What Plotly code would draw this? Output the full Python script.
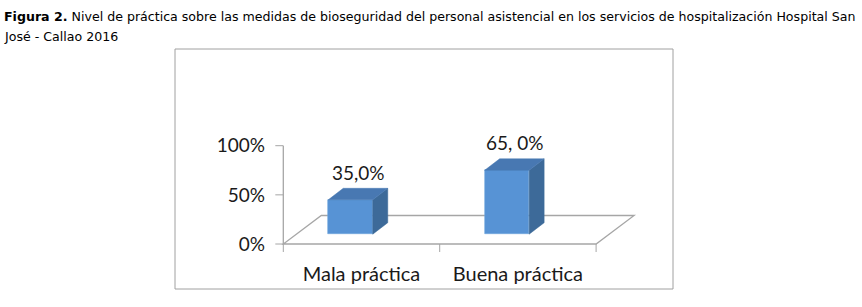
import plotly.graph_objects as go

# ---------------- data ----------------
categories = ["Mala práctica", "Buena práctica"]
values = [35.0, 65.0]
value_labels = ["35,0%", "65, 0%"]
y_tick_values = [0, 50, 100]
y_tick_labels = ["0%", "50%", "100%"]
title_bold = "Figura 2."
title_rest = (" Nivel de práctica sobre las medidas de bioseguridad del personal asistencial "
              "en los servicios de hospitalización Hospital San")
title_line2 = "José - Callao 2016"

# ---------------- layout geometry (pixels) ----------------
W, H = 862, 307
PL, PR, PT, PB = 266, 668, 126, 258      # plot area
X0_PX = 283.3                             # pixel of left category boundary
UX = 156.4                                # px per category
Y0_PX = 244.0                             # pixel of 0 %
UY = 0.983                                # px per percent

x_range = [-0.5 + (PL - X0_PX) / UX, -0.5 + (PR - X0_PX) / UX]
y_range = [(Y0_PX - PB) / UY, (Y0_PX - PT) / UY]


def paper(px, py):
    return (px - PL) / (PR - PL), (PB - py) / (PB - PT)


# 3-D look (in axis units)
BAR_W = 44.5 / UX
BAR_OFF = -11.0 / UX
BAR_DX = 15.0 / UX
BAR_DY = 11.5 / UY
BAR_LIFT = 9.8 / UY
FLOOR_DX = 38.0 / UX
FLOOR_DY = 28.5 / UY
TICK_X = 8.0 / UX
TICK_Y = 8.0 / UY

FRONT = "#5793D5"
SIDE = "#3D6A99"
TOP = "#4878B2"
GRID = "#A6A6A6"
LABEL_FONT = "Lato"

fig = go.Figure()

n = len(categories)
xs = [i + BAR_OFF for i in range(n)]

# front faces
fig.add_trace(go.Bar(
    x=xs, y=values, base=BAR_LIFT, width=BAR_W,
    marker=dict(color=FRONT, line=dict(color="#6FA6DE", width=0.6)),
    hoverinfo="skip", showlegend=False,
))

# side and top faces
side_x, side_y, top_x, top_y = [], [], [], []
for i, v in enumerate(values):
    xl = xs[i] - BAR_W / 2
    xr = xs[i] + BAR_W / 2
    yb = BAR_LIFT
    yt = BAR_LIFT + v
    side_x += [xr, xr + BAR_DX, xr + BAR_DX, xr, xr, None]
    side_y += [yb, yb + BAR_DY, yt + BAR_DY, yt, yb, None]
    top_x += [xl, xr, xr + BAR_DX, xl + BAR_DX, xl, None]
    top_y += [yt, yt, yt + BAR_DY, yt + BAR_DY, yt, None]

fig.add_trace(go.Scatter(x=side_x, y=side_y, fill="toself", fillcolor=SIDE, mode="lines",
                         line=dict(color=SIDE, width=0.5), hoverinfo="skip", showlegend=False))
fig.add_trace(go.Scatter(x=top_x, y=top_y, fill="toself", fillcolor=TOP, mode="lines",
                         line=dict(color=TOP, width=0.5), hoverinfo="skip", showlegend=False))

# value labels
for i, v in enumerate(values):
    fig.add_annotation(x=xs[i] + BAR_DX / 2, y=BAR_LIFT + v + BAR_DY, text=value_labels[i],
                       showarrow=False, yanchor="middle", yshift=16,
                       font=dict(family=LABEL_FONT, size=19, color="#1a1a1a"))

# floor, axis line, tick marks (below traces)
shapes = []
x_left, x_right = -0.5, n - 0.5
floor_path = (f"M {x_left},0 L {x_right},0 L {x_right + FLOOR_DX},{FLOOR_DY} "
              f"L {x_left + FLOOR_DX},{FLOOR_DY} Z")
shapes.append(dict(type="path", path=floor_path, xref="x", yref="y", layer="below",
                   line=dict(color=GRID, width=1.3)))
shapes.append(dict(type="line", xref="x", yref="y", x0=x_left, x1=x_left,
                   y0=0, y1=max(y_tick_values), layer="below", line=dict(color=GRID, width=1.3)))
for tv in y_tick_values:
    shapes.append(dict(type="line", xref="x", yref="y", x0=x_left - TICK_X, x1=x_left,
                       y0=tv, y1=tv, layer="below", line=dict(color=GRID, width=1)))
for k in range(n + 1):
    shapes.append(dict(type="line", xref="x", yref="y", x0=k - 0.5, x1=k - 0.5,
                       y0=0, y1=-TICK_Y, layer="below", line=dict(color=GRID, width=1)))

# chart border
bx0, by0 = paper(175, 289)
bx1, by1 = paper(673, 49)
shapes.append(dict(type="rect", xref="paper", yref="paper", x0=bx0, y0=by0, x1=bx1, y1=by1,
                   line=dict(color="#A0A0A0", width=1)))
fig.update_layout(shapes=shapes)

# title
tx, ty1 = paper(2, 16)
_, ty2 = paper(2, 37)
fig.add_annotation(xref="paper", yref="paper", x=tx, y=ty1, xanchor="left", yanchor="middle",
                   text=f"<b>{title_bold}</b>{title_rest}", showarrow=False,
                   font=dict(family="DejaVu Sans", size=12.6, color="#000000"))
fig.add_annotation(xref="paper", yref="paper", x=tx, y=ty2, xanchor="left", yanchor="middle",
                   text=title_line2, showarrow=False,
                   font=dict(family="DejaVu Sans", size=12.6, color="#000000"))

fig.update_layout(
    width=W, height=H,
    margin=dict(l=PL, r=W - PR, t=PT, b=H - PB, pad=0),
    paper_bgcolor="white", plot_bgcolor="white",
    showlegend=False, bargap=0,
    xaxis=dict(range=x_range, tickmode="array", tickvals=list(range(n)), ticktext=categories,
               showgrid=False, zeroline=False, showline=False, ticks="",
               tickfont=dict(family=LABEL_FONT, size=20, color="#1a1a1a"),
               ticklabelstandoff=2, fixedrange=True),
    yaxis=dict(range=y_range, tickmode="array", tickvals=y_tick_values, ticktext=y_tick_labels,
               showgrid=False, zeroline=False, showline=False, ticks="",
               tickfont=dict(family=LABEL_FONT, size=19, color="#1a1a1a"),
               ticklabelstandoff=0, fixedrange=True),
)

fig.write_html("out.html", config={"displayModeBar": False},
               post_script="document.body.style.margin='0';document.body.style.overflow='hidden';")
